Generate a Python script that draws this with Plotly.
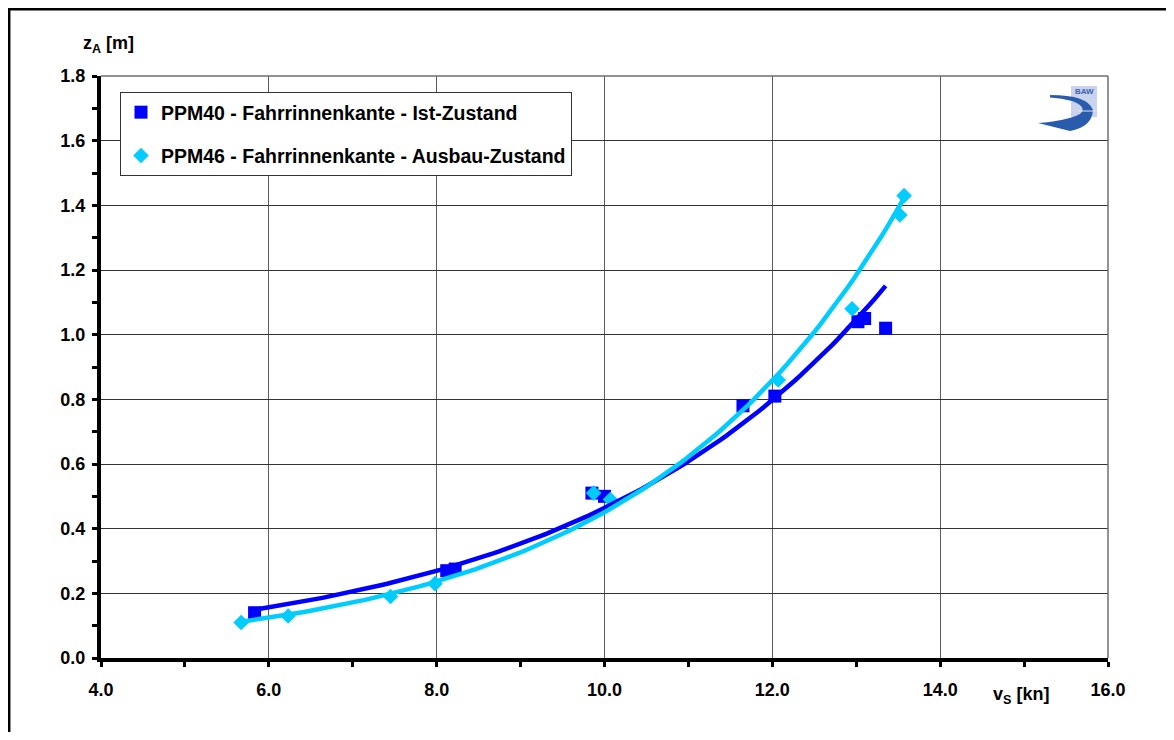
import numpy as np
import plotly.graph_objects as go

# ---- data ----
ppm40_name = "PPM40 - Fahrrinnenkante - Ist-Zustand"
ppm40_v = [5.83, 8.12, 8.22, 9.85, 10.00, 11.65, 12.03, 13.02, 13.10, 13.35]
ppm40_z = [0.14, 0.27, 0.275, 0.51, 0.50, 0.78, 0.81, 1.04, 1.05, 1.02]

ppm46_name = "PPM46 - Fahrrinnenkante - Ausbau-Zustand"
ppm46_v = [5.67, 6.23, 7.45, 7.98, 9.87, 10.07, 12.07, 12.95, 13.52, 13.57]
ppm46_z = [0.11, 0.13, 0.19, 0.23, 0.51, 0.49, 0.86, 1.08, 1.37, 1.43]

x_ticks = [4.0, 6.0, 8.0, 10.0, 12.0, 14.0, 16.0]
y_ticks = [0.0, 0.2, 0.4, 0.6, 0.8, 1.0, 1.2, 1.4, 1.6, 1.8]

BLUE = "#0000FF"
CYAN = "#00CCFF"
FONT = "Liberation Sans, Arial, sans-serif"

# ---- layout geometry (page pixels; page body has an 8px margin) ----
OFF = 8
W, H = 1174 - 2 * OFF, 740 - 2 * OFF
PLOT_L, PLOT_R, PLOT_T, PLOT_B = 101, 1108, 76, 658   # page coords
L, T = PLOT_L - OFF, PLOT_T - OFF
R, B = W - (PLOT_R - OFF), H - (PLOT_B - OFF)
PW, PH = W - L - R, H - T - B


def px(x):
    return (x - PLOT_L) / PW


def py(y):
    return (PLOT_B - y) / PH


def exp_trend(v, z, n=120):
    # Excel-style exponential trendline: least squares on ln(z)
    v = np.asarray(v, float)
    z = np.asarray(z, float)
    b, a = np.polyfit(v, np.log(z), 1)
    xs = np.linspace(v.min(), v.max(), n)
    return xs, np.exp(a + b * xs)


fig = go.Figure()

fig.add_trace(go.Scatter(
    x=ppm40_v, y=ppm40_z, mode="markers", name=ppm40_name,
    legendgroup="a",
    marker=dict(symbol="square", size=13, color=BLUE, line=dict(width=0)),
))
fig.add_trace(go.Scatter(
    x=ppm46_v, y=ppm46_z, mode="markers", name=ppm46_name,
    legendgroup="b",
    marker=dict(symbol="diamond", size=12, color=CYAN, line=dict(width=0)),
))

tx, ty = exp_trend(ppm40_v, ppm40_z)
fig.add_trace(go.Scatter(x=tx, y=ty, mode="lines", showlegend=False,
                         line=dict(color=BLUE, width=4.5), hoverinfo="skip"))
tx, ty = exp_trend(ppm46_v, ppm46_z)
fig.add_trace(go.Scatter(x=tx, y=ty, mode="lines", showlegend=False,
                         line=dict(color=CYAN, width=4.5), hoverinfo="skip"))

tickfont = dict(family=FONT, size=18, color="black", weight="bold")

fig.update_xaxes(
    range=[4, 16], tickvals=x_ticks, ticktext=[f"{t:.1f}" for t in x_ticks],
    showgrid=True, gridcolor="#5a5a5a", gridwidth=1,
    showline=True, linecolor="black", linewidth=4,
    ticks="outside", ticklen=5, tickwidth=3, tickcolor="black",
    minor=dict(dtick=1.0, tick0=4, ticks="outside", ticklen=5, tickwidth=3,
               tickcolor="black", showgrid=False),
    tickfont=tickfont, ticklabelstandoff=7, zeroline=False,
)
fig.update_yaxes(
    range=[0, 1.8], tickvals=y_ticks, ticktext=[f"{t:.1f}" for t in y_ticks],
    showgrid=True, gridcolor="#333333", gridwidth=1,
    showline=True, linecolor="black", linewidth=4,
    ticks="outside", ticklen=5, tickwidth=3, tickcolor="black",
    minor=dict(dtick=0.1, tick0=0, ticks="outside", ticklen=5, tickwidth=3,
               tickcolor="black", showgrid=False),
    tickfont=tickfont, ticklabelstandoff=3, zeroline=False,
)

shapes = [
    # outer frame
    dict(type="rect", xref="paper", yref="paper",
         x0=px(9.2), x1=px(1200), y0=py(9.2), y1=py(780),
         line=dict(color="black", width=2.5), layer="below"),
    # top and right plot borders (gray grid lines)
    dict(type="line", xref="paper", yref="paper", x0=0, x1=1, y0=1, y1=1,
         line=dict(color="#6e6e6e", width=1.5)),
    dict(type="line", xref="paper", yref="paper", x0=1, x1=1, y0=0, y1=1,
         line=dict(color="#6e6e6e", width=1.5)),
    # BAW logo (decoration)
    dict(type="rect", xref="paper", yref="paper",
         x0=px(1071), x1=px(1097), y0=py(86), y1=py(117),
         line=dict(width=0), fillcolor="#c9d3ef"),
]


def path(points_cmds):
    out = []
    for c in points_cmds:
        if isinstance(c, str):
            out.append(c)
        else:
            out.append(f"{px(c[0]):.5f},{py(c[1]):.5f}")
    return " ".join(out)


swoosh = path(["M", (1050, 95), "Q", (1088, 95), (1093, 110),
               "Q", (1092, 127), (1070, 131), "L", (1038, 123),
               "Q", (1066, 121), (1080, 114), "Q", (1088, 107), (1072, 101),
               "Q", (1062, 98), (1050, 97.5), "Z"])
shapes.append(dict(type="path", xref="paper", yref="paper", path=swoosh,
                   fillcolor="#2a5cad", line=dict(width=0)))
shapes.append(dict(type="line", xref="paper", yref="paper",
                   x0=px(1078), x1=px(1096), y0=py(111), y1=py(111),
                   line=dict(color="#dfe6f7", width=1)))

annotations = [
    dict(text="<b>z<sub>A</sub> [m]</b>", xref="paper", yref="paper",
         x=px(81), y=py(45), xanchor="left", yanchor="middle",
         showarrow=False, font=dict(family=FONT, size=18, color="black")),
    dict(text="<b>v<sub>S</sub> [kn]</b>", xref="paper", yref="paper",
         x=px(991), y=py(695), xanchor="left", yanchor="middle",
         showarrow=False, font=dict(family=FONT, size=18, color="black")),
    dict(text="<b>BAW</b>", xref="paper", yref="paper",
         x=px(1096), y=py(91), xanchor="right", yanchor="middle",
         showarrow=False, font=dict(family=FONT, size=8, color="#3d62ad")),
]

fig.update_layout(
    width=W, height=H,
    margin=dict(l=L, r=R, t=T, b=B, pad=0),
    paper_bgcolor="white", plot_bgcolor="white",
    showlegend=True,
    legend=dict(
        x=px(120), y=py(92), xanchor="left", yanchor="top",
        bgcolor="white", bordercolor="#333333", borderwidth=1,
        font=dict(family=FONT, size=19.5, color="black", weight="bold"),
        tracegroupgap=15, traceorder="grouped",
    ),
    shapes=shapes,
    annotations=annotations,
)

fig.write_html("out.html")
